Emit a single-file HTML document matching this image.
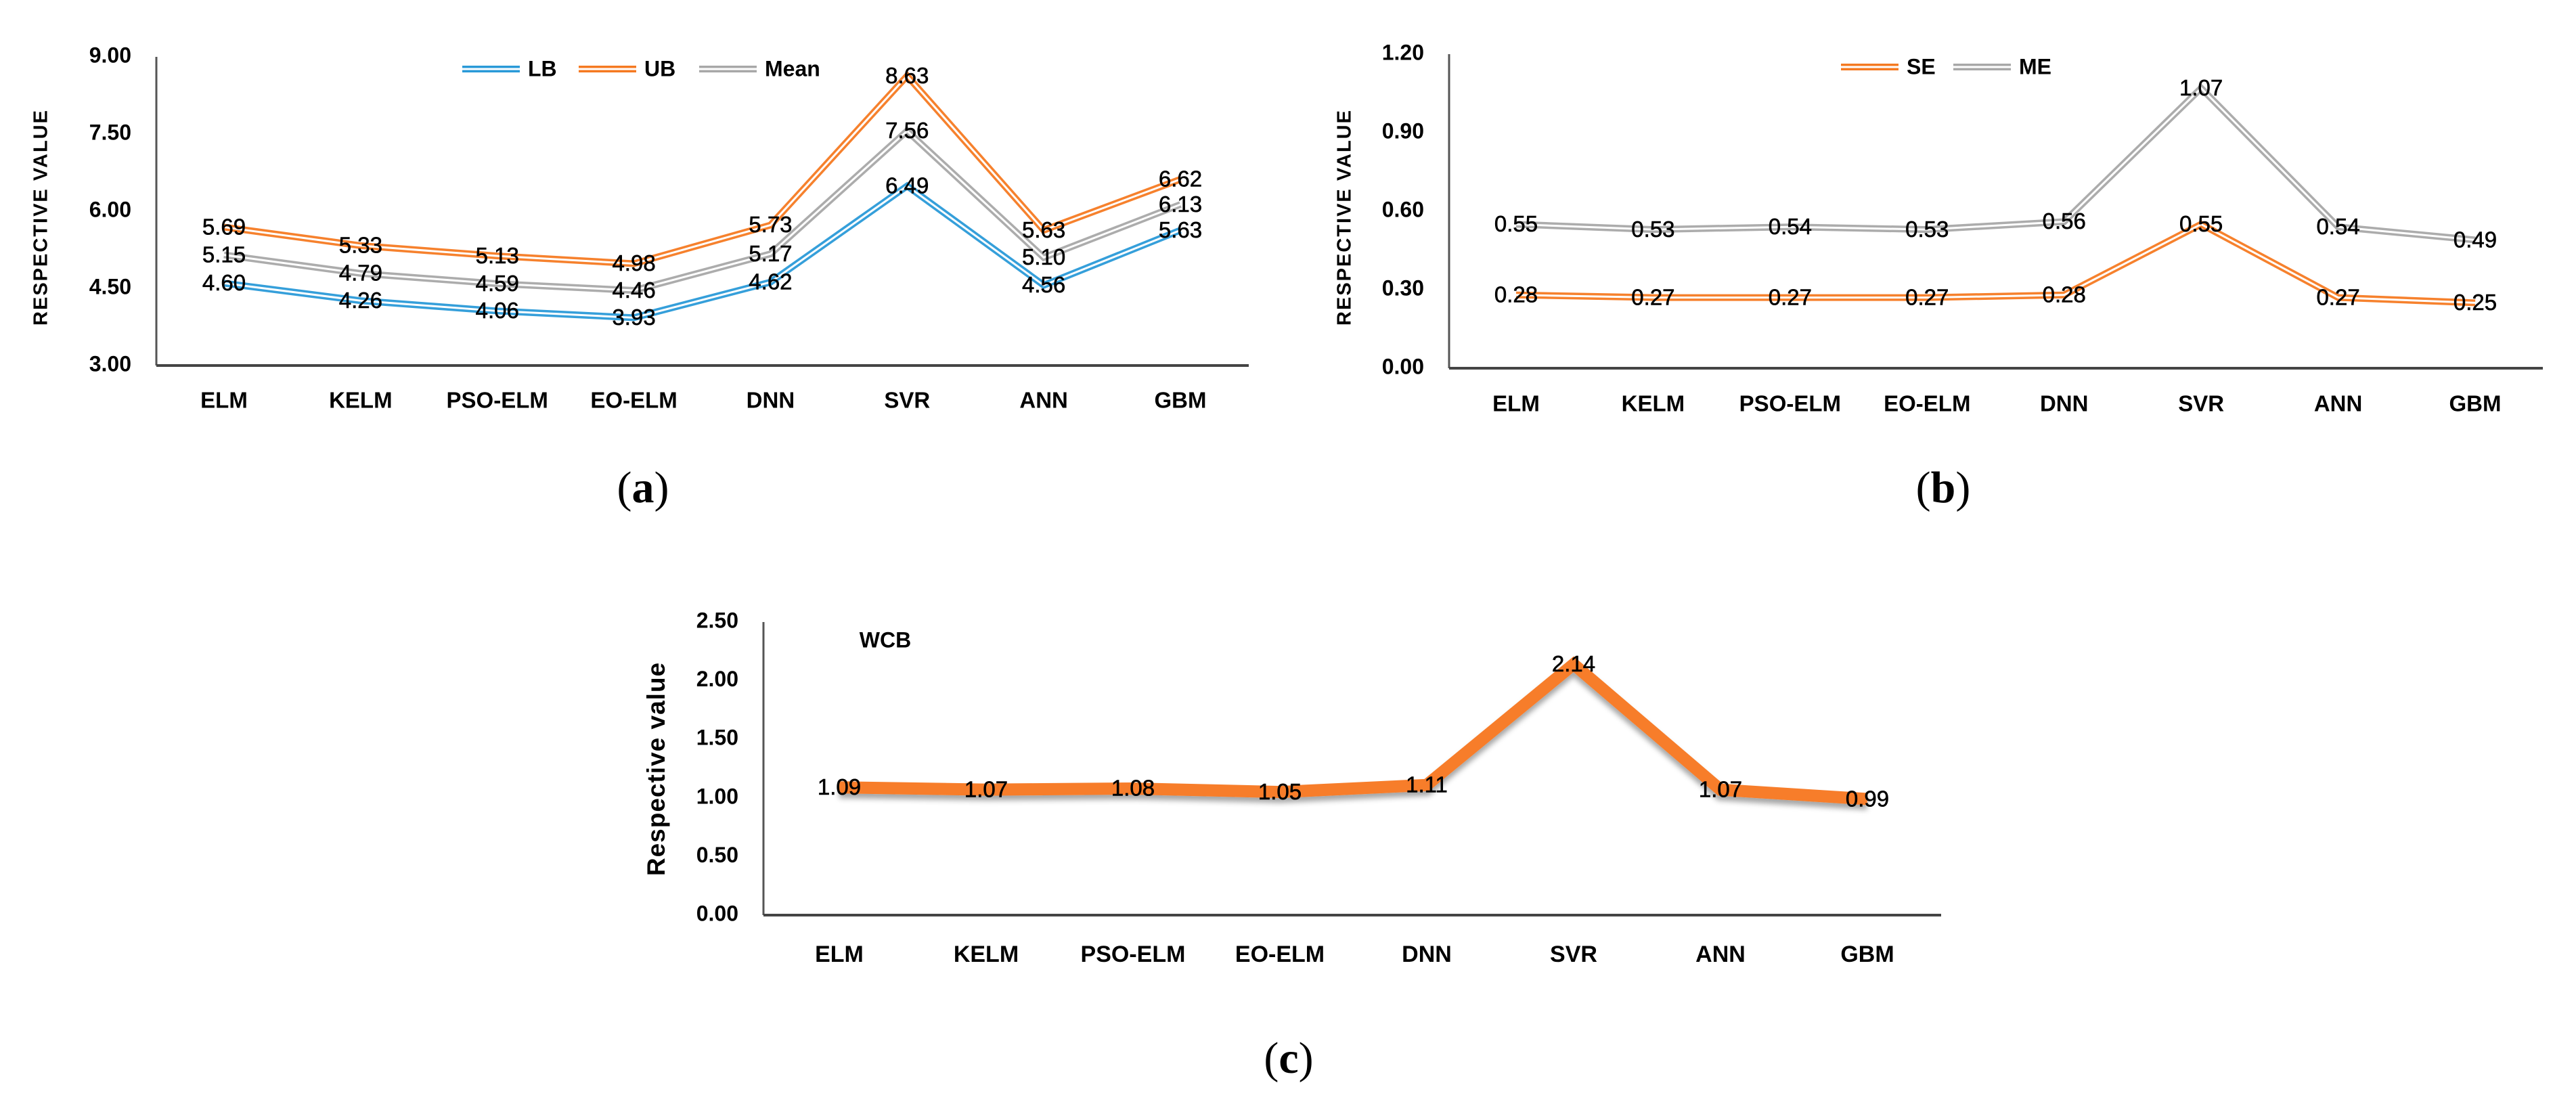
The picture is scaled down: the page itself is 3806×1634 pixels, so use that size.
<!DOCTYPE html>
<html><head><meta charset="utf-8"><style>
html,body{margin:0;padding:0;background:#fff;}
svg{display:block;}
text{font-family:"Liberation Sans",sans-serif;}
</style></head><body>
<svg id="fig" width="3806" height="1634" viewBox="0 0 3806 1634" xmlns="http://www.w3.org/2000/svg">
<defs>
<filter id="shadow" x="-5%" y="-50%" width="110%" height="200%"><feDropShadow dx="0" dy="7" stdDeviation="4" flood-color="#000" flood-opacity="0.35"/></filter>
</defs>
<g id="chartA"></g>
<g id="chartB"></g>
<g id="chartC"></g>
<text x="950" y="742" font-size="66" text-anchor="middle" style="font-family:'Liberation Serif',serif">(<tspan font-weight="bold">a</tspan>)</text>
<text x="2871" y="742" font-size="66" text-anchor="middle" style="font-family:'Liberation Serif',serif">(<tspan font-weight="bold">b</tspan>)</text>
<text x="1904" y="1585" font-size="66" text-anchor="middle" style="font-family:'Liberation Serif',serif">(<tspan font-weight="bold">c</tspan>)</text>
</svg>
<script>
const categories = ["ELM","KELM","PSO-ELM","EO-ELM","DNN","SVR","ANN","GBM"];
const lbValues = [4.60,4.26,4.06,3.93,4.62,6.49,4.56,5.63];
const ubValues = [5.69,5.33,5.13,4.98,5.73,8.63,5.63,6.62];
const meanValues = [5.15,4.79,4.59,4.46,5.17,7.56,5.10,6.13];
const ticksA = ["3.00","4.50","6.00","7.50","9.00"];
const seValues = [0.28,0.27,0.27,0.27,0.28,0.55,0.27,0.25];
const meValues = [0.55,0.53,0.54,0.53,0.56,1.07,0.54,0.49];
const ticksB = ["0.00","0.30","0.60","0.90","1.20"];
const wcbValues = [1.09,1.07,1.08,1.05,1.11,2.14,1.07,0.99];
const ticksC = ["0.00","0.50","1.00","1.50","2.00","2.50"];

const NS = "http://www.w3.org/2000/svg";
function mk(parent, tag, attrs, txt){
  const e = document.createElementNS(NS, tag);
  for (const k in attrs) e.setAttribute(k, attrs[k]);
  if (txt !== undefined) e.textContent = txt;
  parent.appendChild(e);
  return e;
}

function drawChart(g, cfg){
  const yMin = parseFloat(cfg.ticks[0]), yMax = parseFloat(cfg.ticks[cfg.ticks.length-1]);
  const yScale = v => cfg.yBottom - (v - yMin) / (yMax - yMin) * (cfg.yBottom - cfg.yTop);
  const xScale = i => cfg.x0 + i * (cfg.x1 - cfg.x0) / (categories.length - 1);
  const ya = mk(g, "line", {x1:cfg.axisX, y1:cfg.yTop, x2:cfg.axisX, y2:cfg.yBottom, stroke:"#555", "stroke-width":3});
  
  
  const xa = mk(g, "line", {x1:cfg.axisX, y1:cfg.yBottom, x2:cfg.axisRight, y2:cfg.yBottom, stroke:"#444", "stroke-width":4});
  
  
  cfg.ticks.forEach(t => {
    const tl = mk(g, "text", {x:cfg.axisX-37, y:yScale(parseFloat(t)), "font-size":32, "font-weight":"bold", "text-anchor":"end", "dominant-baseline":"middle", fill:"#000"}, t);
    
    
  });
  categories.forEach((c,i) => {
    const cl = mk(g, "text", {x:xScale(i), y:cfg.labelY, "font-size":cfg.catSize, "font-weight":"bold", "text-anchor":"middle", "dominant-baseline":"middle", fill:"#000"}, c);
    
    
  });
  const yt = mk(g, "text", {x:cfg.titleX, y:cfg.titleY, "font-size":cfg.titleSize, "font-weight":"bold", "letter-spacing":cfg.titleSpacing, "text-anchor":"middle", "dominant-baseline":"middle", transform:`rotate(-90 ${cfg.titleX} ${cfg.titleY})`, fill:"#000"}, cfg.title);
  
  
  cfg.series.forEach(s => {
    const pts = s.values.map((v,i) => xScale(i)+","+yScale(v)).join(" ");
    const sg = mk(g, "g", {});
    
    
    if (s.thick) {
      mk(sg, "polyline", {points:pts, fill:"none", stroke:s.color, "stroke-width":18, "stroke-linejoin":"miter", filter:"url(#shadow)"});
    } else {
      mk(sg, "polyline", {points:pts, fill:"none", stroke:s.color, "stroke-width":10, "stroke-linejoin":"miter", opacity:0.95});
      mk(sg, "polyline", {points:pts, fill:"none", stroke:"#fff", "stroke-width":3, "stroke-linejoin":"miter"});
    }
  });
  cfg.series.forEach(s => {
    s.values.forEach((v,i) => {
      const dl = mk(g, "text", {x:xScale(i), y:yScale(v)+2, "font-size":33, "text-anchor":"middle", "dominant-baseline":"middle", fill:"#000", stroke:"#000", "stroke-width":0.6}, v.toFixed(2));
      
      
    });
  });
  (cfg.legend||[]).forEach(l => {
    const lg = mk(g, "g", {});
    
    
    mk(lg, "line", {x1:l.x, y1:l.y, x2:l.x+85, y2:l.y, stroke:l.color, "stroke-width":10});
    mk(lg, "line", {x1:l.x, y1:l.y, x2:l.x+85, y2:l.y, stroke:"#fff", "stroke-width":3});
    mk(lg, "text", {x:l.x+97, y:l.y+2, "font-size":32, "font-weight":"bold", "dominant-baseline":"middle", fill:"#000"}, l.name);
  });
}

const BLUE="#2a9ad8", ORANGE="#f57a22", GRAY="#a8a8a8";
drawChart(document.getElementById("chartA"), {
  ticks:ticksA, yTop:84, yBottom:540, axisX:231, axisRight:1845, x0:331, x1:1744,
  labelY:594, catSize:33, title:"RESPECTIVE VALUE", titleX:62, titleY:321, titleSize:29, titleSpacing:2,
  series:[{name:"LB",values:lbValues,color:BLUE},{name:"UB",values:ubValues,color:ORANGE},{name:"Mean",values:meanValues,color:GRAY}],
  legend:[{name:"LB",x:683,y:102,color:BLUE},{name:"UB",x:855,y:102,color:ORANGE},{name:"Mean",x:1033,y:102,color:GRAY}]
});
drawChart(document.getElementById("chartB"), {
  ticks:ticksB, yTop:80, yBottom:544, axisX:2141, axisRight:3757, x0:2240, x1:3657,
  labelY:599, catSize:33, title:"RESPECTIVE VALUE", titleX:1988, titleY:321, titleSize:29, titleSpacing:2,
  series:[{name:"SE",values:seValues,color:ORANGE},{name:"ME",values:meValues,color:GRAY}],
  legend:[{name:"SE",x:2720,y:99,color:ORANGE},{name:"ME",x:2886,y:99,color:GRAY}]
});
drawChart(document.getElementById("chartC"), {
  ticks:ticksC, yTop:919, yBottom:1352, axisX:1128, axisRight:2868, x0:1240, x1:2759,
  labelY:1412, catSize:34, title:"Respective value", titleX:972, titleY:1136, titleSize:37, titleSpacing:1,
  series:[{name:"WCB",values:wcbValues,color:"#f77d2a",thick:true}]
});
const wcb = mk(document.getElementById("chartC"), "text", {x:1308, y:948, "font-size":32, "font-weight":"bold", "text-anchor":"middle", "dominant-baseline":"middle", fill:"#000"}, "WCB");


</script>
</body></html>
